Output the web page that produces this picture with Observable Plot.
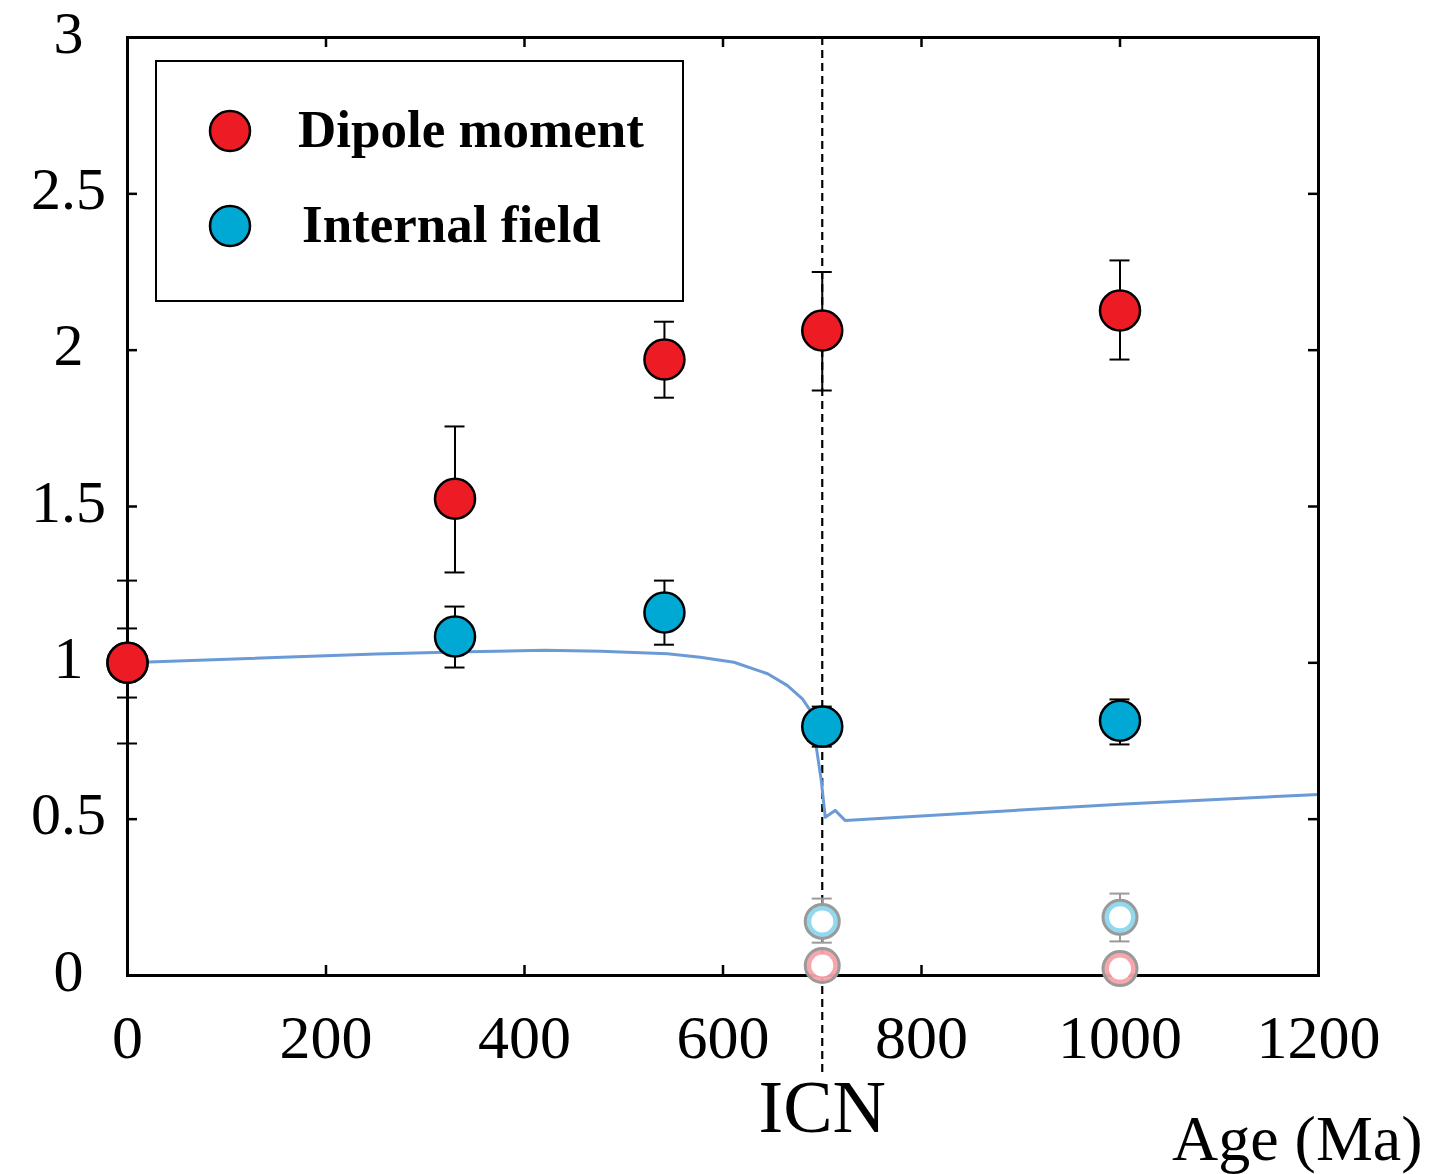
<!DOCTYPE html>
<html><head><meta charset="utf-8">
<script src="https://cdn.jsdelivr.net/npm/d3@7"></script>
<script src="https://cdn.jsdelivr.net/npm/@observablehq/plot@0.6"></script>
<style>
body{margin:0;background:#fff;}
#wrap{position:relative;width:1435px;height:1174px;overflow:hidden;}
#legend{position:absolute;left:155px;top:60px;}
</style>
</head><body>
<div id="wrap"><div id="legend"></div></div>
<script>
// Tick values
const xTicks = [0, 200, 400, 600, 800, 1000, 1200];
const yTicks = [0, 0.5, 1, 1.5, 2, 2.5, 3];
const icnAge = [700];

// Dipole moment (red)
const dipoleAge   = [0, 330, 541, 700, 1000];
const dipoleValue = [1.0, 1.525, 1.97, 2.063, 2.127];
const dipoleLow   = [0.889, 1.289, 1.848, 1.871, 1.97];
const dipoleHigh  = [1.11, 1.756, 2.091, 2.25, 2.287];

// Internal field (blue)
const fieldAge   = [0, 330, 541, 700, 1000];
const fieldValue = [1.0, 1.084, 1.161, 0.796, 0.815];
const fieldLow   = [0.742, 0.985, 1.058, 0.732, 0.739];
const fieldHigh  = [1.263, 1.18, 1.263, 0.86, 0.883];

// Faint (model) points
const faintAge        = [700, 1000];
const faintFieldValue = [0.173, 0.186];
const faintFieldLow   = [0.105, 0.109];
const faintFieldHigh  = [0.246, 0.262];
const faintDipoleValue = [0.032, 0.022];

// Model curve
const curveAge   = [0, 250, 330, 420, 477, 544, 577, 611, 645, 665, 680, 688, 694, 699, 703, 713, 723, 1000, 1200];
const curveValue = [1.0, 1.028, 1.035, 1.04, 1.037, 1.029, 1.018, 1.002, 0.965, 0.927, 0.885, 0.847, 0.73, 0.624, 0.506, 0.528, 0.496, 0.548, 0.579];

const RED = "#ed1c24", BLUE = "#00a8d4", CURVE = "#6b9bd6";

const dipole = dipoleAge.map((a, i) => ({age: a, v: dipoleValue[i], lo: dipoleLow[i], hi: dipoleHigh[i]}));
const field = fieldAge.map((a, i) => ({age: a, v: fieldValue[i], lo: fieldLow[i], hi: fieldHigh[i]}));
const faintField = faintAge.map((a, i) => ({age: a, v: faintFieldValue[i], lo: faintFieldLow[i], hi: faintFieldHigh[i]}));
const faintDipole = faintAge.map((a, i) => ({age: a, v: faintDipoleValue[i]}));
const curve = curveAge.map((a, i) => ({age: a, v: curveValue[i]}));

const serif = '"Liberation Serif", "Times New Roman", Times, serif';

function errorMarks(data, color, w) {
  return [
    Plot.ruleX(data, {x: "age", y1: "lo", y2: "hi", stroke: color, strokeWidth: w}),
    Plot.ruleY(data, {y: "lo", x1: "age", x2: "age", insetLeft: -10, insetRight: -10, stroke: color, strokeWidth: w}),
    Plot.ruleY(data, {y: "hi", x1: "age", x2: "age", insetLeft: -10, insetRight: -10, stroke: color, strokeWidth: w})
  ];
}

const chart = Plot.plot({
  width: 1435, height: 1174,
  marginLeft: 127, marginRight: 117, marginTop: 37, marginBottom: 199,
  x: {domain: [0, 1200]},
  y: {domain: [0, 3]},
  style: {fontFamily: serif, background: "white", color: "black", overflow: "visible"},
  marks: [
    Plot.ruleX(icnAge, {x: d => d, y1: 3, y2: 0, insetBottom: -98, stroke: "black", strokeWidth: 2.2, strokeDasharray: "8,5"}),
    Plot.line(curve, {x: "age", y: "v", stroke: CURVE, strokeWidth: 3}),
    Plot.frame({stroke: "black", strokeWidth: 3}),
    Plot.ruleX(xTicks, {x: d => d, y1: 0, y2: 0, insetBottom: 10, stroke: "black", strokeWidth: 2.5}),
    Plot.ruleX(xTicks, {x: d => d, y1: 3, y2: 3, insetTop: 10, stroke: "black", strokeWidth: 2.5}),
    Plot.ruleY(yTicks, {y: d => d, x1: 0, x2: 0, insetLeft: 10, stroke: "black", strokeWidth: 2.5}),
    Plot.ruleY(yTicks, {y: d => d, x1: 1200, x2: 1200, insetRight: 10, stroke: "black", strokeWidth: 2.5}),
    Plot.axisX(xTicks, {anchor: "bottom", tickSize: 0, tickPadding: 38, fontSize: 62, fontFamily: serif, tickFormat: d => String(d), label: null}),
    Plot.axisY(yTicks, {anchor: "left", tickSize: 0, tickPadding: 59, textAnchor: "middle", fontSize: 60, fontFamily: serif, dy: -4, tickFormat: d => String(d), label: null}),
    Plot.text(["ICN"], {x: icnAge, frameAnchor: "bottom", lineAnchor: "middle", dy: 133, fontSize: 74, fontFamily: serif, fill: "black"}),
    Plot.text(["Age (Ma)"], {frameAnchor: "bottom-right", textAnchor: "end", lineAnchor: "middle", dx: 104, dy: 164, fontSize: 64, fontFamily: serif, fill: "black"}),
    // faint model points
    ...errorMarks(faintField, "#9a9a9a", 2),
    Plot.dot(faintField, {x: "age", y: "v", r: 17, fill: "#93d9ee", stroke: "#9a9a9a", strokeWidth: 3}),
    Plot.dot(faintField, {x: "age", y: "v", r: 11, fill: "white"}),
    Plot.dot(faintDipole, {x: "age", y: "v", r: 17, fill: "#f7a1a6", stroke: "#9a9a9a", strokeWidth: 3, fillOpacity: 0.95}),
    Plot.dot(faintDipole, {x: "age", y: "v", r: 11, fill: "white"}),
    // error bars
    ...errorMarks(field, "black", 2),
    ...errorMarks(dipole, "black", 2),
    Plot.dot(field, {x: "age", y: "v", r: 20, fill: BLUE, stroke: "black", strokeWidth: 2.5}),
    Plot.dot(dipole, {x: "age", y: "v", r: 20, fill: RED, stroke: "black", strokeWidth: 2.5})
  ]
});
const wrap = document.getElementById("wrap");
wrap.insertBefore(chart, wrap.firstChild);

// Legend
const legendItems = [
  {label: "Dipole moment", color: RED, tx: 143, cy: 71},
  {label: "Internal field", color: BLUE, tx: 147, cy: 166}
];
const lg = d3.select("#legend").append("svg").attr("width", 530).attr("height", 243);
lg.append("rect").attr("x", 1).attr("y", 1).attr("width", 527).attr("height", 240)
  .attr("fill", "white").attr("stroke", "black").attr("stroke-width", 2);
legendItems.forEach(d => {
  lg.append("circle").attr("cx", 75).attr("cy", d.cy).attr("r", 20)
    .attr("fill", d.color).attr("stroke", "black").attr("stroke-width", 2.5);
  lg.append("text").attr("x", d.tx).attr("y", d.cy + 16).text(d.label)
    .attr("font-family", serif).attr("font-weight", "bold").attr("font-size", 53).attr("fill", "black");
});
</script>
</body></html>
